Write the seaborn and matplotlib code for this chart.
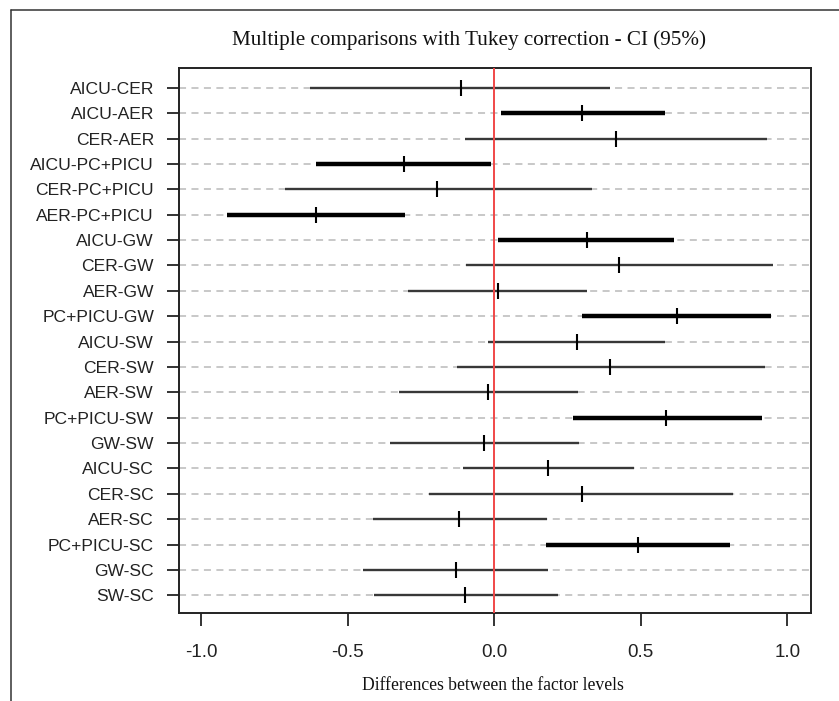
import matplotlib.pyplot as plt
import seaborn as sns
import numpy as np
import pandas as pd
from matplotlib.lines import Line2D

# dati (differenze stimate e IC 95%)
comparisons = ["AICU-CER", "AICU-AER", "CER-AER", "AICU-PC+PICU", "CER-PC+PICU",
               "AER-PC+PICU", "AICU-GW", "CER-GW", "AER-GW", "PC+PICU-GW",
               "AICU-SW", "CER-SW", "AER-SW", "PC+PICU-SW", "GW-SW",
               "AICU-SC", "CER-SC", "AER-SC", "PC+PICU-SC", "GW-SC", "SW-SC"]
estimate = [-0.115, 0.298, 0.414, -0.307, -0.196, -0.610, 0.315, 0.427, 0.012, 0.622,
            0.282, 0.395, -0.020, 0.586, -0.036, 0.182, 0.298, -0.120, 0.489, -0.132, -0.100]
lower = [-0.629, 0.022, -0.100, -0.608, -0.716, -0.911, 0.014, -0.097, -0.293, 0.298,
         -0.020, -0.128, -0.324, 0.267, -0.356, -0.106, -0.223, -0.415, 0.176, -0.447, -0.410]
upper = [0.395, 0.583, 0.932, -0.010, 0.332, -0.305, 0.613, 0.952, 0.315, 0.944,
         0.583, 0.924, 0.285, 0.913, 0.290, 0.477, 0.816, 0.179, 0.804, 0.184, 0.216]
xticks = [-1.0, -0.5, 0.0, 0.5, 1.0]

df = pd.DataFrame({"comparison": comparisons, "estimate": estimate,
                   "lower": lower, "upper": upper})
df["pos"] = np.arange(len(df))
df["sig"] = (df["lower"] > 0) | (df["upper"] < 0)

sns.set_theme(style="white")
plt.rcParams["font.family"] = ["Liberation Sans", "DejaVu Sans"]
plt.rcParams["axes.unicode_minus"] = False

fig = plt.figure(figsize=(8.39, 7.01), dpi=100)
ax = fig.add_axes([0.2134, 0.1255, 0.7529, 0.7775])

# griglia tratteggiata per ogni confronto
for p in df["pos"]:
    ax.axhline(p, color="#c4c4c4", lw=1.3, ls=(0, (3.9, 3.0)), zorder=1)

# intervalli: spessi se non contengono lo zero
thin = df[~df["sig"]]
thick = df[df["sig"]]
ax.hlines(thin["pos"], thin["lower"], thin["upper"], color="#383838", lw=1.7, zorder=2)
ax.hlines(thick["pos"], thick["lower"], thick["upper"], color="black", lw=3.2, zorder=2)

ax.axvline(0, color="#f04848", lw=1.4, zorder=3)

sns.scatterplot(data=df, x="estimate", y="pos", marker="|", s=130, color="black",
                linewidth=1.5, ax=ax, zorder=4, legend=False)

ax.set_xlim(-1.076, 1.08)
ax.set_ylim(20.70, -0.78)
ax.set_yticks(df["pos"])
ax.set_yticklabels(df["comparison"], fontsize=12.6, color="#222222")
ax.set_xticks(xticks)
ax.set_xticklabels([f"{t:.1f}" for t in xticks], fontsize=13.5, color="#222222")
ax.tick_params(axis="y", length=9, width=1.4, color="#333333", pad=9, left=True)
ax.tick_params(axis="x", length=9, width=1.4, color="#333333", pad=13, bottom=True)
ax.set_xlabel("")
ax.set_ylabel("")
for s in ax.spines.values():
    s.set_color("#222222")
    s.set_linewidth(1.4)

fig.text(469 / 839, 1 - 40 / 701, "Multiple comparisons with Tukey correction - CI (95%)",
         family="Liberation Serif", fontsize=15.2, ha="center", va="center", color="#111111")
fig.text(493 / 839, 1 - 685 / 701, "Differences between the factor levels",
         family="Liberation Serif", fontsize=12.7, ha="center", va="center", color="#111111")

# cornice esterna (solo lato sinistro e superiore)
fig.add_artist(Line2D([11 / 839, 11 / 839], [0, 1 - 10 / 701], color="#333333", lw=1.1))
fig.add_artist(Line2D([11 / 839, 1], [1 - 10 / 701, 1 - 10 / 701], color="#333333", lw=1.1))

plt.savefig("out.png", dpi=100)
